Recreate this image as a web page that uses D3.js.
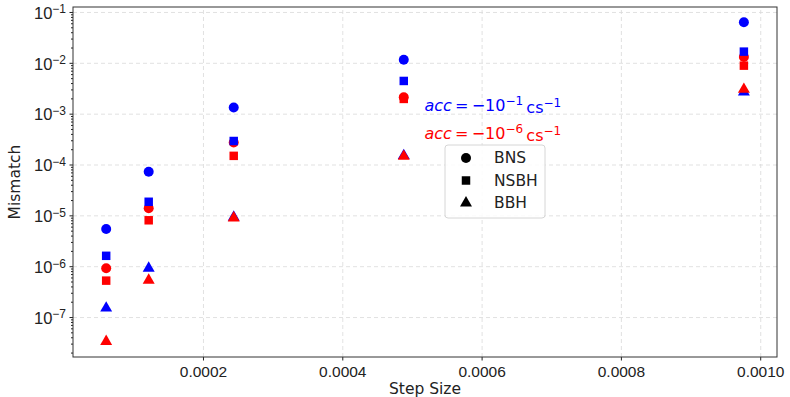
<!DOCTYPE html>
<html lang="en">
<head>
<meta charset="UTF-8">
<title>Mismatch vs Step Size</title>
<style>
    body { margin: 0; background: #fff; }
    svg { font-family: "DejaVu Sans", sans-serif; }
    .grid line { stroke: #d9d9d9; stroke-dasharray: 4 3; stroke-width: 0.8; }
    .grid path { display: none; }
    .axis path, .axis line { stroke: #222; }
    .axis text { font-size: 15.5px; fill: #222; }
</style>
</head>
<body>
<svg id="chart"></svg>
<script src="https://d3js.org/d3.v7.min.js"></script>
<script>
    // data
    const stepSizes = [6.1035e-5, 1.2207e-4, 2.4414e-4, 4.8828e-4, 9.7656e-4];
    const blueBNS  = [5.4e-6, 7.2e-5, 1.32e-3, 1.15e-2, 6.3e-2];
    const blueNSBH = [1.6e-6, 1.85e-5, 2.9e-4, 4.4e-3, 1.66e-2];
    const blueBBH  = [1.5e-7, 9.1e-7, 9.2e-6, 1.5e-4, 2.65e-3];
    const redBNS   = [9.1e-7, 1.38e-5, 2.7e-4, 2.1e-3, 1.3e-2];
    const redNSBH  = [5.2e-7, 8.0e-6, 1.48e-4, 1.95e-3, 8.8e-3];
    const redBBH   = [3.3e-8, 5.3e-7, 8.9e-6, 1.45e-4, 3.0e-3];
    const xTicks = [0.0002, 0.0004, 0.0006, 0.0008, 0.0010];
    const yExps = [-7, -6, -5, -4, -3, -2, -1];
    const legendLabels = ["BNS", "NSBH", "BBH"];

    const w = 790, h = 397;
    const m = { left: 73, right: 13, top: 7, bottom: 40 };

    const svg = d3.select("#chart").attr("width", w).attr("height", h);

    const x = d3.scaleLinear()
        .domain([1.34e-5, 1.0241e-3])
        .range([m.left, w - m.right]);
    const y = d3.scaleLog()
        .domain([Math.pow(10, -7.786), Math.pow(10, -0.902)])
        .range([h - m.bottom, m.top]);

    const majors = yExps.map(e => Math.pow(10, e));
    const minors = [];
    for (let e = -8; e <= -1; e++) {
        for (let k = 2; k <= 9; k++) {
            const v = k * Math.pow(10, e);
            if (v >= y.domain()[0] && v <= y.domain()[1]) minors.push(v);
        }
    }

    // grid
    svg.append("g").attr("class", "grid")
        .attr("transform", "translate(0," + (h - m.bottom) + ")")
        .call(d3.axisBottom(x).tickValues(xTicks).tickSize(-(h - m.top - m.bottom)).tickFormat(""));
    svg.append("g").attr("class", "grid")
        .attr("transform", "translate(" + m.left + ",0)")
        .call(d3.axisLeft(y).tickValues(majors).tickSize(-(w - m.left - m.right)).tickFormat(""));

    // axes
    svg.append("g").attr("class", "axis")
        .attr("transform", "translate(0," + (h - m.bottom) + ")")
        .call(d3.axisBottom(x).tickValues(xTicks).tickSize(3.5).tickPadding(5)
            .tickFormat(d3.format(".4f")))
        .call(g => g.select(".domain").remove());

    svg.append("g").attr("class", "axis")
        .attr("transform", "translate(" + m.left + ",0)")
        .call(d3.axisLeft(y).tickValues(minors).tickSize(2).tickFormat(""))
        .call(g => g.select(".domain").remove());

    const yAxis = svg.append("g").attr("class", "axis")
        .attr("transform", "translate(" + m.left + ",0)")
        .call(d3.axisLeft(y).tickValues(majors).tickSize(3.5).tickFormat(""))
        .call(g => g.select(".domain").remove());

    yAxis.selectAll(".tick").each(function (d) {
        const e = Math.round(Math.log10(d));
        const t = d3.select(this).append("text")
            .attr("x", -7).attr("dy", "0.38em")
            .attr("text-anchor", "end").style("fill", "#222").style("font-size", "16.5px");
        t.append("tspan").text("10");
        t.append("tspan").attr("dy", "-0.45em").style("font-size", "12px").text("\u2212" + Math.abs(e));
    });

    // frame
    svg.append("rect")
        .attr("x", m.left).attr("y", m.top)
        .attr("width", w - m.left - m.right).attr("height", h - m.top - m.bottom)
        .attr("fill", "none").attr("stroke", "#333").attr("stroke-width", 1);

    // axis labels
    svg.append("text")
        .attr("x", (m.left + w - m.right) / 2).attr("y", h - 3)
        .attr("text-anchor", "middle").style("font-size", "15.5px").style("fill", "#222")
        .text("Step Size");
    svg.append("text")
        .attr("transform", "translate(20," + ((m.top + h - m.bottom) / 2) + ") rotate(-90)")
        .attr("text-anchor", "middle").style("font-size", "15.5px").style("fill", "#222")
        .text("Mismatch");

    // markers
    const sym = {
        BNS: d3.symbol().type(d3.symbolCircle).size(78),
        NSBH: d3.symbol().type(d3.symbolSquare).size(72),
        BBH: d3.symbol().type(d3.symbolTriangle).size(62)
    };
    const series = [
        { vals: blueBNS, kind: "BNS", color: "blue" },
        { vals: redBNS, kind: "BNS", color: "red" },
        { vals: blueNSBH, kind: "NSBH", color: "blue" },
        { vals: redNSBH, kind: "NSBH", color: "red" },
        { vals: blueBBH, kind: "BBH", color: "blue" },
        { vals: redBBH, kind: "BBH", color: "red" }
    ];
    series.forEach(s => {
        svg.append("g").selectAll("path")
            .data(s.vals)
            .enter()
            .append("path")
            .attr("d", sym[s.kind]())
            .attr("transform", (d, i) => "translate(" + x(stepSizes[i]) + "," + y(d) + ")")
            .attr("fill", s.color);
    });

    // annotations
    function accLabel(px, py, color, exp) {
        const t = svg.append("text").attr("x", px).attr("y", py)
            .style("font-size", "16px").style("fill", color);
        t.append("tspan").style("font-style", "italic").text("acc");
        t.append("tspan").text("\u2009=\u2009\u221210");
        t.append("tspan").attr("dy", "-0.5em").style("font-size", "12px").text("\u2212" + exp);
        t.append("tspan").attr("dy", "0.5em").text("\u2009cs");
        t.append("tspan").attr("dy", "-0.5em").style("font-size", "12px").text("\u22121");
    }
    accLabel(x(0.000518), y(1.13e-3), "blue", 1);
    accLabel(x(0.000518), y(3.2e-4), "red", 6);

    // legend
    const lg = svg.append("g").attr("transform", "translate(445,145)");
    lg.append("rect").attr("width", 100).attr("height", 73).attr("rx", 3)
        .attr("fill", "white").attr("fill-opacity", 0.85)
        .attr("stroke", "#d6d6d6");
    legendLabels.forEach((name, i) => {
        const ry = 13 + i * 22.5;
        lg.append("path").attr("d", sym[name]())
            .attr("transform", "translate(21," + ry + ")").attr("fill", "black");
        lg.append("text").attr("x", 49).attr("y", ry).attr("dy", "0.35em")
            .style("font-size", "15.5px").style("fill", "#222").text(name);
    });
</script>
</body>
</html>
